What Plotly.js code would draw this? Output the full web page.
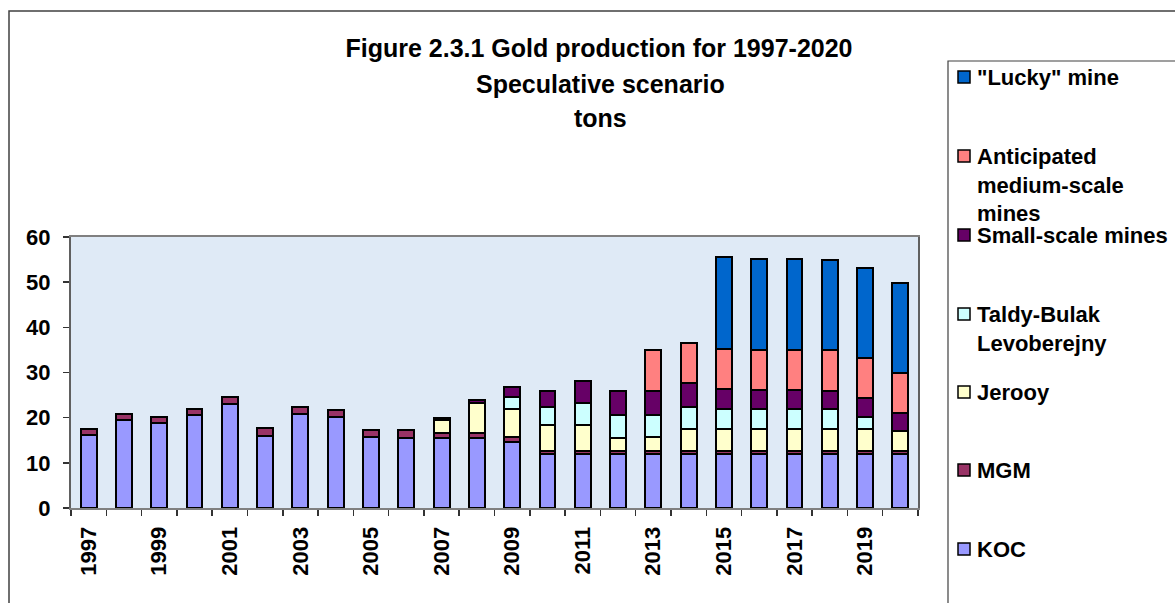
<!DOCTYPE html>
<html>
<head>
<meta charset="utf-8">
<script src="https://cdn.plot.ly/plotly-3.0.1.min.js"></script>
<style>
  html, body { margin: 0; padding: 0; background: #ffffff; }
  #chart { width: 1175px; height: 603px; }
</style>
</head>
<body>
<div id="chart"></div>
<script>
// Gold production by source, tons
const years = ['1997','1998','1999','2000','2001','2002','2003','2004','2005','2006','2007','2008',
               '2009','2010','2011','2012','2013','2014','2015','2016','2017','2018','2019','2020'];

const koc       = [16.2, 19.5, 18.9, 20.6, 23.1, 16.0, 20.9, 20.2, 15.8, 15.5, 15.5, 15.4,
                   14.6, 12.0, 12.0, 12.0, 12.0, 12.0, 12.0, 12.0, 12.0, 12.0, 12.0, 12.0];
const mgm       = [1.3, 1.4, 1.3, 1.4, 1.5, 1.7, 1.5, 1.6, 1.5, 1.8, 1.2, 1.3,
                   1.1, 0.7, 0.7, 0.7, 0.7, 0.7, 0.7, 0.7, 0.7, 0.7, 0.7, 0.7];
const jerooy    = [null, null, null, null, null, null, null, null, null, null, 2.7, 6.6,
                   6.3, 5.6, 5.6, 2.8, 3.1, 4.8, 4.8, 4.8, 4.8, 4.8, 4.8, 4.3];
const taldy     = [null, null, null, null, null, null, null, null, null, null, null, null,
                   2.6, 4.1, 4.9, 5.1, 4.8, 4.8, 4.5, 4.5, 4.5, 4.5, 2.7, null];
const smallScale = [null, null, null, null, null, null, null, null, null, null, 0.5, 0.6,
                   2.1, 3.5, 4.9, 5.3, 5.2, 5.3, 4.3, 4.1, 4.1, 4.0, 4.1, 4.0];
const anticipated = [null, null, null, null, null, null, null, null, null, null, null, null,
                   null, null, null, null, 9.2, 9.0, 9.0, 8.9, 8.9, 8.9, 8.9, 8.9];
const lucky     = [null, null, null, null, null, null, null, null, null, null, null, null,
                   null, null, null, null, null, null, 20.3, 20.1, 20.1, 20.0, 20.0, 20.0];

// Stack order, bottom to top
const seriesNames  = ['KOC', 'MGM', 'Jerooy', 'Taldy-Bulak Levoberejny', 'Small-scale mines',
                      'Anticipated medium-scale mines', '"Lucky" mine'];
const legendLabels = ['KOC', 'MGM', 'Jerooy', 'Taldy-Bulak<br>Levoberejny', 'Small-scale mines',
                      'Anticipated<br>medium-scale<br>mines', '"Lucky" mine'];
const seriesValues = [koc, mgm, jerooy, taldy, smallScale, anticipated, lucky];
const seriesColors = ['#9999FF', '#993366', '#FFFFCC', '#CCFFFF', '#660066', '#FF8080', '#0066CC'];

// Year labels on every other category
const yearLabels = years.map((y, i) => (i % 2 === 0 ? y : ''));

const titleLines = ['Figure 2.3.1 Gold production for 1997-2020', 'Speculative scenario', 'tons'];

const FONT = 'Liberation Sans, Arial, sans-serif';

const traces = seriesValues.map((vals, i) => ({
  type: 'bar',
  name: seriesNames[i],
  x: years,
  y: vals,
  marker: { color: seriesColors[i], line: { color: '#000000', width: 2 } },
  showlegend: false,
  hoverinfo: 'x+y+name'
}));

// Plot area in pixels: left 71, right 918, top 237, bottom 508
const PL = 71, PR = 918, PT = 237, PB = 508;
const fx = p => (p - PL) / (PR - PL);
const fy = p => (PB - p) / (PB - PT);

const shapes = [
  // outer chart frame
  { type: 'rect', xref: 'paper', yref: 'paper', x0: fx(9), x1: fx(1190), y0: fy(11), y1: fy(620),
    line: { color: '#404040', width: 1.5 }, fillcolor: 'rgba(0,0,0,0)', layer: 'below' },
  // legend frame
  { type: 'rect', xref: 'paper', yref: 'paper', x0: fx(948), x1: fx(1190), y0: fy(61), y1: fy(620),
    line: { color: '#404040', width: 1.2 }, fillcolor: 'rgba(0,0,0,0)', layer: 'below' }
];

const annotations = [
  { text: '<b>' + titleLines[1] + '</b>', xref: 'paper', yref: 'paper', x: fx(600), y: fy(84),
    xanchor: 'center', yanchor: 'middle', showarrow: false,
    font: { family: FONT, size: 25, color: '#000000' } },
  { text: '<b>' + titleLines[2] + '</b>', xref: 'paper', yref: 'paper', x: fx(600), y: fy(118),
    xanchor: 'center', yanchor: 'middle', showarrow: false,
    font: { family: FONT, size: 25, color: '#000000' } }
];

// Legend entries, top to bottom, evenly spaced
const legendTops = [77, 156, 235, 314, 392, 470, 549];
for (let k = 0; k < seriesNames.length; k++) {
  const i = seriesNames.length - 1 - k;
  const cy = legendTops[k];
  shapes.push({ type: 'rect', xref: 'paper', yref: 'paper',
    x0: fx(958), x1: fx(970), y0: fy(cy - 6), y1: fy(cy + 6),
    fillcolor: seriesColors[i], line: { color: '#000000', width: 1.5 } });
  annotations.push({ text: '<b>' + legendLabels[i] + '</b>', xref: 'paper', yref: 'paper',
    x: fx(975), y: fy(cy - 14), xanchor: 'left', yanchor: 'top', align: 'left', showarrow: false,
    font: { family: FONT, size: 22, color: '#000000' } });
}

const layout = {
  width: 1175,
  height: 603,
  margin: { l: PL, r: 1175 - PR, t: PT, b: 603 - PB, pad: 0 },
  paper_bgcolor: '#ffffff',
  plot_bgcolor: '#dfeaf6',
  barmode: 'stack',
  bargap: 0.55,
  showlegend: false,
  title: {
    text: '<b>' + titleLines[0] + '</b>',
    font: { family: FONT, size: 25, color: '#000000' },
    xref: 'container', yref: 'container',
    x: 599 / 1175, y: 1 - 48 / 603, xanchor: 'center', yanchor: 'middle'
  },
  xaxis: {
    type: 'category',
    tickmode: 'array',
    tickvals: years,
    ticktext: yearLabels,
    tickson: 'boundaries',
    ticks: 'outside',
    ticklen: 6,
    tickwidth: 1.5,
    tickcolor: '#333333',
    tickangle: -90,
    ticklabelstandoff: 8,
    tickfont: { family: FONT, size: 22, color: '#000000', weight: 'bold' },
    showline: true,
    linecolor: '#808080',
    linewidth: 2,
    mirror: true,
    showgrid: false,
    zeroline: false,
    fixedrange: true
  },
  yaxis: {
    range: [0, 60],
    tickmode: 'linear',
    tick0: 0,
    dtick: 10,
    ticks: 'outside',
    ticklen: 6,
    tickwidth: 1.5,
    tickcolor: '#333333',
    ticklabelstandoff: 8,
    tickfont: { family: FONT, size: 22, color: '#000000', weight: 'bold' },
    showline: true,
    linecolor: '#606060',
    linewidth: 2,
    mirror: true,
    showgrid: false,
    zeroline: false,
    fixedrange: true
  },
  shapes: shapes,
  annotations: annotations
};

Plotly.newPlot('chart', traces, layout, { displayModeBar: false, staticPlot: true });
</script>
</body>
</html>
